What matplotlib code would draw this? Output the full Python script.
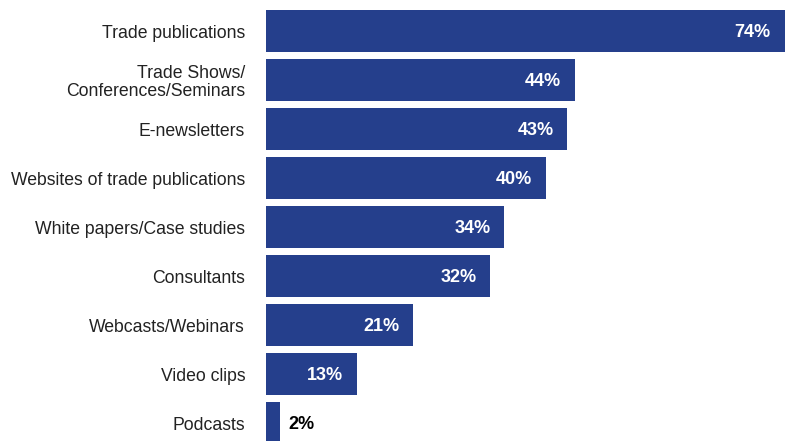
import numpy as np
import matplotlib.pyplot as plt

plt.rcParams['font.family'] = ['Liberation Sans', 'DejaVu Sans']

# Sources of information, share of respondents (%)
categories = ['Trade publications', 'Trade Shows/\nConferences/Seminars', 'E-newsletters',
              'Websites of trade publications', 'White papers/Case studies', 'Consultants',
              'Webcasts/Webinars', 'Video clips', 'Podcasts']
values = [74, 44, 43, 40, 34, 32, 21, 13, 2]

bar_color = '#253f8c'

fig = plt.figure(figsize=(7.88, 4.41), dpi=100)
ax = fig.add_axes([266 / 788, 0, 522 / 788, 1])

y = np.arange(len(categories))
ax.barh(y, values, height=0.857, color=bar_color)

for yi, v in zip(y, values):
    if v >= 10:
        ax.annotate(f'{v}%', (v, yi), xytext=(-14, -1), textcoords='offset pixels',
                    ha='right', va='center', color='white', fontweight='bold', fontsize=13)
    else:
        ax.annotate(f'{v}%', (v, yi), xytext=(8, -1), textcoords='offset pixels',
                    ha='left', va='center', color='black', fontweight='bold', fontsize=13)

ax.set_xlim(0, 74.45)
ax.set_ylim(8.367, -0.633)
ax.set_yticks(y)
ax.set_yticklabels(categories, fontsize=12.7, color='#222222', linespacing=1.05)
ax.tick_params(axis='y', length=0, pad=15)
ax.set_xticks([])
for s in ax.spines.values():
    s.set_visible(False)

fig.savefig('out.png', dpi=100)
